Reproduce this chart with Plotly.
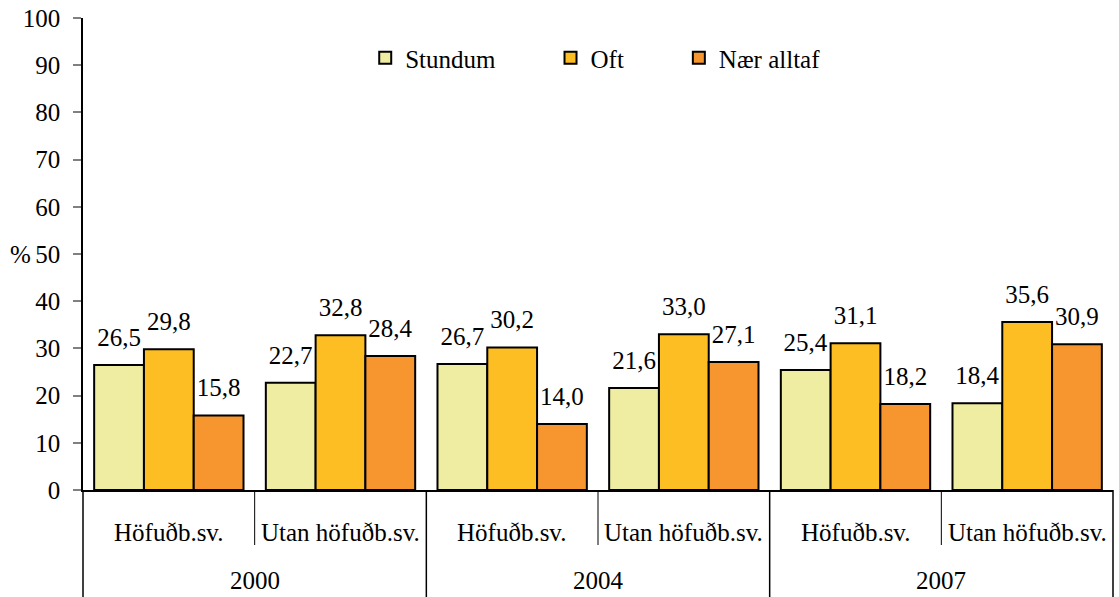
import plotly.graph_objects as go

years = ["2000", "2004", "2007"]
regions = ["Höfuðb.sv.", "Utan höfuðb.sv."]
series = ["Stundum", "Oft", "Nær alltaf"]
stundum = [26.5, 22.7, 26.7, 21.6, 25.4, 18.4]
oft = [29.8, 32.8, 30.2, 33.0, 31.1, 35.6]
naer = [15.8, 28.4, 14.0, 27.1, 18.2, 30.9]
colors = ["#EFEDA1", "#FCBE22", "#F7962F"]
y_ticks = list(range(0, 101, 10))

FONT = "'Liberation Serif', 'Times New Roman', Times, serif"
FS = 25
PAD = "\u00a0" * 8  # widen the gap between legend entries

x_years = [yr for yr in years for _ in regions]
x_regions = [rg for _ in years for rg in regions]
x = [x_years, x_regions]
n = len(x_regions)

fig = go.Figure()
for i, (name, vals) in enumerate(zip(series, [stundum, oft, naer])):
    fig.add_trace(go.Bar(
        x=x, y=vals, name=name + (PAD if i < len(series) - 1 else ""),
        offsetgroup=str(i),
        marker=dict(color=colors[i], line=dict(color="black", width=2)),
        hoverinfo="skip",
    ))
    # transparent bar on top of each bar, only to carry the value label
    fig.add_trace(go.Bar(
        x=x, y=[2.4] * n, base=vals, offsetgroup=str(i), showlegend=False,
        marker=dict(color="rgba(0,0,0,0)", line=dict(width=0)),
        text=[f"{v:.1f}".replace(".", ",") for v in vals],
        textposition="outside", constraintext="none", cliponaxis=False,
        textfont=dict(family=FONT, size=FS, color="black"),
        hoverinfo="skip",
    ))

fig.update_layout(
    width=1119, height=597,
    margin=dict(l=83, r=6, t=18, b=107),
    paper_bgcolor="white", plot_bgcolor="white",
    font=dict(family=FONT, size=FS, color="black"),
    barmode="group", bargap=0.13, bargroupgap=0,
    showlegend=True,
    legend=dict(
        orientation="h", x=0.274, xanchor="left", y=0.915, yanchor="middle",
        font=dict(family=FONT, size=FS, color="black"),
        bgcolor="rgba(0,0,0,0)", itemclick=False,
    ),
    xaxis=dict(
        type="multicategory", showticklabels=False, showgrid=False,
        showline=True, linecolor="black", linewidth=1.5, ticks="",
        showdividers=False, zeroline=False,
    ),
    yaxis=dict(
        range=[0, 100], tickvals=y_ticks, showgrid=False, zeroline=False,
        showline=True, linecolor="black", linewidth=1.5,
        ticks="outside", ticklen=8, tickwidth=1.5, tickcolor="#808080",
        ticklabelstandoff=8,
        tickfont=dict(family=FONT, size=FS, color="black"),
    ),
)

# category labels and dividers under the axis
for i, rg in enumerate(x_regions):
    fig.add_annotation(
        x=(i + 0.5) / n, xref="paper", y=0, yref="paper", yshift=-42,
        text=rg, showarrow=False, xanchor="center", yanchor="middle",
        font=dict(family=FONT, size=FS, color="black"),
    )
for j, yr in enumerate(years):
    fig.add_annotation(
        x=(2 * j + 1) / n, xref="paper", y=0, yref="paper", yshift=-90,
        text=yr, showarrow=False, xanchor="center", yanchor="middle",
        font=dict(family=FONT, size=FS, color="black"),
    )
for k in range(n + 1):
    depth = -107 if k % 2 == 0 else -55
    fig.add_shape(
        type="line", xref="paper", x0=k / n, x1=k / n,
        yref="paper", ysizemode="pixel", yanchor=0, y0=0, y1=depth,
        line=dict(color="black", width=1.5 if k % 2 == 0 else 1),
    )

fig.add_annotation(
    x=0, xref="paper", xshift=-63, y=50, yref="y", text="%",
    showarrow=False, xanchor="center", yanchor="middle",
    font=dict(family=FONT, size=FS, color="black"),
)

fig.write_html("out.html", config={"displayModeBar": False},
               post_script="document.body.style.margin='0';")
